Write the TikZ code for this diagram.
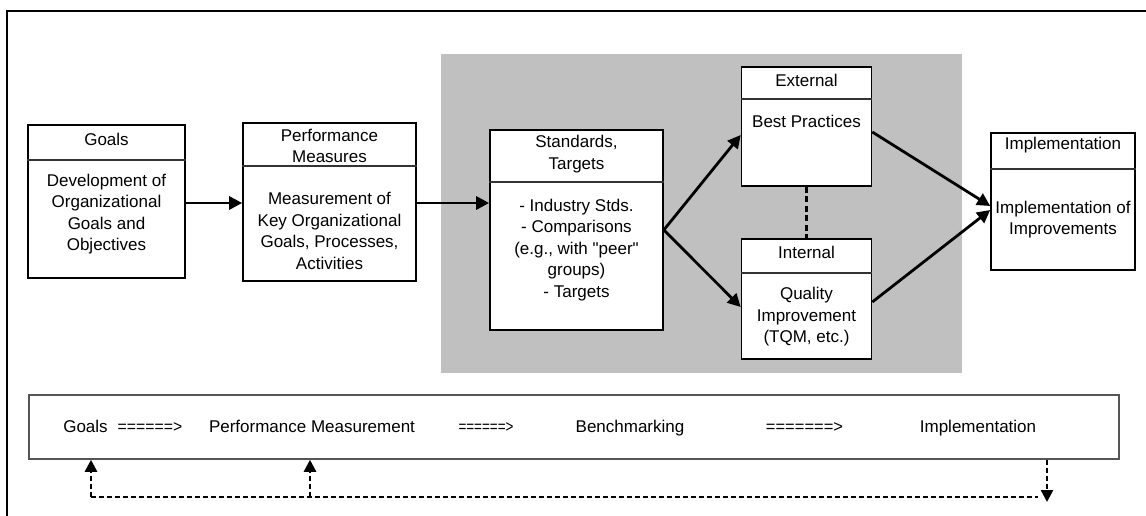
\documentclass[tikz,border=0pt]{standalone}
\usepackage{fontspec}
\usepackage{graphicx}
\setmainfont{Liberation Sans}
% same face without TeX ligature mapping, for straight double quotes
\newfontfamily\rawfont{Liberation Sans}
\newcommand{\sq}{{\rawfont\symbol{34}}}
\usetikzlibrary{arrows.meta,calc}

\definecolor{panelgray}{HTML}{C0C0C0}
\definecolor{bargray}{HTML}{555555}

\tikzset{
  box/.style={draw=black, line width=1.6pt, fill=white, inner sep=0pt},
  divider/.style={draw=black!80, line width=1.5pt},
  txt/.style={font=\fontsize{17}{21.5}\selectfont, align=center, inner sep=0pt},
  bartxt/.style={txt, anchor=base},
  arr/.style={draw=black, line width=2.8pt, -{Triangle[length=13pt,width=13pt]}},
  link/.style={draw=black, line width=2.2pt, dash pattern=on 6pt off 3.5pt},
  fb/.style={draw=black, line width=2.5pt, dash pattern=on 5pt off 3pt},
  fbarr/.style={fb, -{Triangle[length=12pt,width=12pt]}},
}

\begin{document}
\begin{tikzpicture}[x=1pt, y=-1pt]
\useasboundingbox (0,0) rectangle (1146,516);

% frame (top and left edges)
\draw[line width=2.5pt] (7,516) -- (7,11) -- (1146,11);

% benchmarking panel
\fill[panelgray] (441,54) rectangle (962,373);

% process boxes
\node[box, minimum width=157pt, minimum height=153pt] (goals) at (106.5,201.5) {};
\node[box, minimum width=173pt, minimum height=158pt] (pm)    at (329.5,202) {};
\node[box, minimum width=173pt, minimum height=200pt] (std)   at (576.5,230) {};
\node[box, minimum width=130pt, minimum height=119pt] (ext)   at (806.5,126.5) {};
\node[box, minimum width=130pt, minimum height=120pt] (int)   at (806.5,299) {};
\node[box, minimum width=144pt, minimum height=137pt] (impl)  at (1063,201.5) {};

% header dividers
\draw[divider] (goals.west |- 0,160) -- (goals.east |- 0,160);
\draw[divider] (pm.west |- 0,166) -- (pm.east |- 0,166);
\draw[divider] (std.west |- 0,182) -- (std.east |- 0,182);
\draw[divider] (ext.west |- 0,99) -- (ext.east |- 0,99);
\draw[divider] (int.west |- 0,273) -- (int.east |- 0,273);
\draw[divider] (impl.west |- 0,169) -- (impl.east |- 0,169);

% box texts
\node[txt] (goalsH) at (106.5,139) {Goals};
\node[txt] (goalsB) at (106.5,214) {Development of\\Organizational\\Goals and\\Objectives};
\node[txt] (pmH) at (329.5,146) {Performance\\Measures};
\node[txt] (pmB) at (329.5,231) {Measurement of\\Key Organizational\\Goals, Processes,\\Activities};
\node[txt] (stdH) at (576.5,154) {Standards,\\Targets};
\node[txt] (stdB) at (576.5,250) {- Industry Stds.\\- Comparisons\\(e.g., with \sq peer\sq\\groups)\\- Targets};
\node[txt] (extH) at (806.5,80) {External};
\node[txt] (extB) at (806.5,121) {Best Practices};
\node[txt] (intH) at (806.5,252) {Internal};
\node[txt] (intB) at (806.5,317) {Quality\\Improvement\\(TQM, etc.)};
\node[txt] (implH) at (1063,145) {Implementation};
\node[txt] (implB) at (1063,219.5) {Implementation of\\Improvements};

% flow connectors
\draw[arr] (goals.east |- 0,203) -- (pm.west |- 0,203);
\draw[arr] (pm.east |- 0,203) -- (std.west |- 0,203);
\draw[arr] (std.east |- 0,230) -- (ext.west |- 0,135);
\draw[arr] (std.east |- 0,230) -- (int.west |- 0,307);
\draw[arr] (ext.east |- 0,132) -- (impl.west |- 0,206);
\draw[arr] (int.east |- 0,302) -- (impl.west |- 0,210);
\draw[link] (ext.south) -- (int.north);

% summary bar
\node[draw=bargray, line width=1.5pt, fill=white, minimum width=1090pt, minimum height=64pt, inner sep=0pt] (bar) at (574,427) {};
\node[bartxt] (sG)  at (85.5,432) {Goals};
\node[bartxt] (sA1) at (150,432) {\scalebox{0.93}[1]{======>}};
\node[bartxt] (sP)  at (312,432) {Performance Measurement};
\node[bartxt] (sA2) at (486,432) {\scalebox{0.79}[1]{======>}};
\node[bartxt] (sB)  at (630,432) {Benchmarking};
\node[bartxt] (sA3) at (804.5,432) {\scalebox{0.97}[1]{=======>}};
\node[bartxt] (sI)  at (978,432) {Implementation};

% feedback loop
\coordinate (fbL) at (91,497);
\coordinate (fbM) at (310,497);
\coordinate (fbE) at (1038,497);
\coordinate (fbR) at (1047,502);
\draw[fb] (fbL) -- (fbE);
\draw[fbarr] (fbL) -- (bar.south -| fbL);
\draw[fbarr] (fbM) -- (bar.south -| fbM);
\draw[fbarr] (bar.south -| fbR) -- (fbR);
\end{tikzpicture}
\end{document}
